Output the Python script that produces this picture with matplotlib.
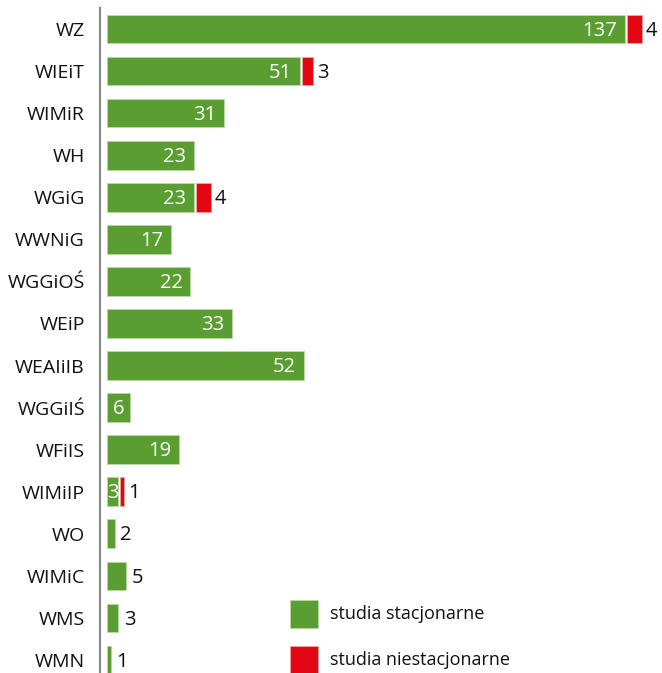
import matplotlib
matplotlib.use("Agg")
import matplotlib.pyplot as plt
from matplotlib.patches import Rectangle

categories = ["WZ", "WIEiT", "WIMiR", "WH", "WGiG", "WWNiG", "WGGiOŚ", "WEiP",
              "WEAIiIB", "WGGiIŚ", "WFiIS", "WIMiIP", "WO", "WIMiC", "WMS", "WMN"]
stacjonarne = [137, 51, 31, 23, 23, 17, 22, 33, 52, 6, 19, 3, 2, 5, 3, 1]
niestacjonarne = [4, 3, 0, 0, 4, 0, 0, 0, 0, 0, 0, 1, 0, 0, 0, 0]
legend_labels = ["studia stacjonarne", "studia niestacjonarne"]

GREEN = "#5a9e32"
RED = "#e30613"
FONT = ["Open Sans", "DejaVu Sans"]
plt.rcParams['font.family'] = FONT

W, H = 662, 673
fig = plt.figure(figsize=(W / 100, H / 100), dpi=100)
ax = fig.add_axes([100 / W, 0, 1 - 100 / W, 1 - 8 / H])

y = list(range(len(categories)))
ax.barh(y, stacjonarne, height=0.68, color=GREEN, edgecolor="#b8d8a8", linewidth=0.6)
ry = [i for i, n in enumerate(niestacjonarne) if n > 0]
ax.barh(ry, [niestacjonarne[i] for i in ry], left=[stacjonarne[i] + 0.5 for i in ry],
        height=0.68, color=RED, edgecolor="#f5a0a0", linewidth=0.6)

fs = 14
vfs = 14.5
for i, (s, n) in enumerate(zip(stacjonarne, niestacjonarne)):
    if s >= 10:
        ax.text(s - 2, i + 0.04, str(s), ha="right", va="center", color="white", fontsize=vfs)
    elif s >= 3 and (s > 5 or n > 0):
        ax.text(s / 2, i + 0.04, str(s), ha="center", va="center", color="white", fontsize=vfs)
    else:
        ax.text(s + 1.5, i + 0.04, str(s), ha="left", va="center", color="#111111", fontsize=vfs)
    if n > 0:
        ax.text(s + n + 1.6, i + 0.04, str(n), ha="left", va="center", color="#111111", fontsize=vfs)

ax.set_xlim(-1.85, 146.8)
ax.set_ylim(15.31, -0.5)
ax.set_yticks(y)
ax.set_yticklabels(categories, fontsize=fs, color="#111111")
ax.tick_params(axis="y", length=0, pad=11)
ax.set_xticks([])
for sp in ["top", "right", "bottom"]:
    ax.spines[sp].set_visible(False)
ax.spines["left"].set_color("#888888")
ax.spines["left"].set_linewidth(1.5)

# legend
fig.patches.append(Rectangle((290 / W, 1 - 628 / H), 28 / W, 28 / H, transform=fig.transFigure,
                             facecolor=GREEN, edgecolor="#b8d8a8", linewidth=0.6))
fig.patches.append(Rectangle((290 / W, 1 - 674 / H), 28 / W, 28 / H, transform=fig.transFigure,
                             facecolor=RED, edgecolor="#f5a0a0", linewidth=0.6))
fig.text(330 / W, 1 - 614 / H, legend_labels[0], fontsize=13, va="center", color="#111111")
fig.text(330 / W, 1 - 660 / H, legend_labels[1], fontsize=13, va="center", color="#111111")

fig.savefig("out.png", dpi=100)
